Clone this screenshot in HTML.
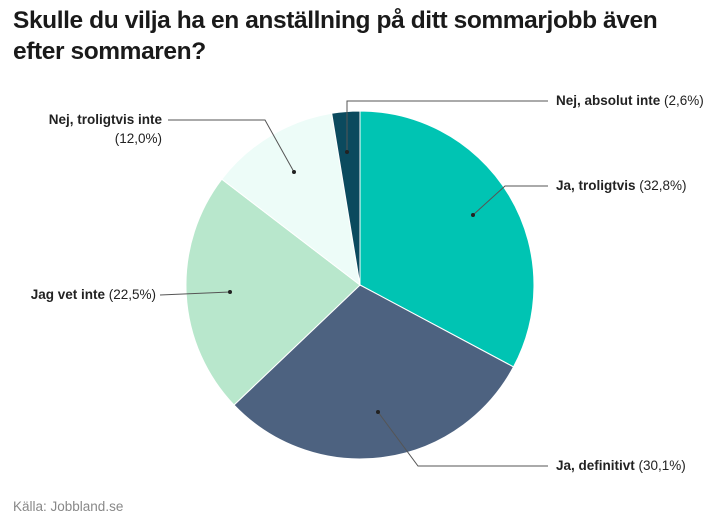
<!DOCTYPE html>
<html><head><meta charset="utf-8"><style>
body{margin:0;width:720px;height:526px;background:#fff;overflow:hidden;font-family:"Liberation Sans",sans-serif}
h1{position:absolute;left:13px;top:5px;margin:0;font-size:24.5px;line-height:31px;font-weight:bold;color:#1a1a1a;letter-spacing:-0.4px}
svg text{font-family:"Liberation Sans",sans-serif;font-size:13.5px;fill:#222}
</style></head><body>
<h1>Skulle du vilja ha en anställning på ditt sommarjobb även<br>efter sommaren?</h1>
<svg width="720" height="526" style="position:absolute;left:0;top:0">
<g stroke="#fff" stroke-width="1">
<path d="M360,285 L360,111 A174,174 0 0 1 513.5,366.9 Z" fill="#00c4b3"/>
<path d="M360,285 L513.5,366.9 A174,174 0 0 1 234,405 Z" fill="#4d6280"/>
<path d="M360,285 L234,405 A174,174 0 0 1 221.8,179.2 Z" fill="#b8e7cc"/>
<path d="M360,285 L221.8,179.2 A174,174 0 0 1 331.7,113.3 Z" fill="#edfcf8"/>
<path d="M360,285 L331.7,113.3 A174,174 0 0 1 360,111 Z" fill="#0b4a5e"/>
</g>
<g stroke="#555" stroke-width="1" fill="none">
<polyline points="347,152 347,101 548,101"/>
<polyline points="473,215 505,186 548,186"/>
<polyline points="378,412 418,466 548,466"/>
<polyline points="230,292 160,295"/>
<polyline points="294,172 265,120 168,120"/>
</g>
<g fill="#222"><circle cx="347" cy="152" r="2"/><circle cx="473" cy="215" r="2"/><circle cx="378" cy="412" r="2"/><circle cx="230" cy="292" r="2"/><circle cx="294" cy="172" r="2"/></g>
<text x="556" y="105"><tspan font-weight="bold">Nej, absolut inte</tspan> (2,6%)</text>
<text x="556" y="190"><tspan font-weight="bold">Ja, troligtvis</tspan> (32,8%)</text>
<text x="556" y="470"><tspan font-weight="bold">Ja, definitivt</tspan> (30,1%)</text>
<text x="156" y="299" text-anchor="end"><tspan font-weight="bold">Jag vet inte</tspan> (22,5%)</text>
<text x="162" y="124" text-anchor="end" font-weight="bold">Nej, troligtvis inte</text>
<text x="162" y="143" text-anchor="end">(12,0%)</text>
<text x="13" y="511" style="fill:#888">Källa: Jobbland.se</text>
</svg>
</body></html>
